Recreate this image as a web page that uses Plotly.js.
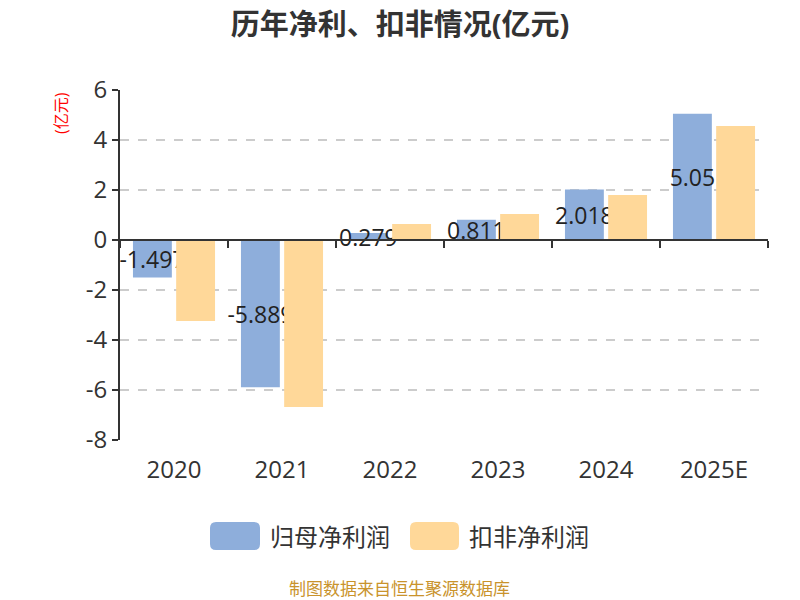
<!DOCTYPE html>
<html>
<head>
<meta charset="utf-8">
<script src="https://cdn.plot.ly/plotly-3.0.1.min.js"></script>
<style>html,body{margin:0;padding:0;background:#fff}</style>
</head>
<body>
<div id="chart" style="width:800px;height:600px"></div>
<script>
// values in 亿元
const years = ["2020", "2021", "2022", "2023", "2024", "2025E"];
const netProfit = [-1.497, -5.889, 0.279, 0.811, 2.018, 5.05];
const deductedProfit = [-3.24, -6.68, 0.64, 1.04, 1.80, 4.56];
const seriesNames = ["归母净利润", "扣非净利润"];
const seriesColors = ["#8eaedb", "#ffd899"];
const yTicks = [-8, -6, -4, -2, 0, 2, 4, 6];

const font = "'Open Sans', 'Noto Sans CJK SC', sans-serif";
const W = 800, H = 600, L = 120, R = 32, T = 90, B = 160;
const pw = W - L - R, ph = H - T - B;
// pixel -> paper helpers for the hand-made legend
const px = v => (v - L) / pw;
const py = v => (H - B - v) / ph;

function roundRect(x0, y0, x1, y1, r) {
    const p = (x, y) => px(x) + "," + py(y);
    return "M" + p(x0 + r, y0) + " L" + p(x1 - r, y0) + " Q" + p(x1, y0) + " " + p(x1, y0 + r) +
        " L" + p(x1, y1 - r) + " Q" + p(x1, y1) + " " + p(x1 - r, y1) +
        " L" + p(x0 + r, y1) + " Q" + p(x0, y1) + " " + p(x0, y1 - r) +
        " L" + p(x0, y0 + r) + " Q" + p(x0, y0) + " " + p(x0 + r, y0) + " Z";
}

const yMin = yTicks[0], yMax = yTicks[yTicks.length - 1];

const data = [
    {
        type: "bar",
        name: seriesNames[0],
        x: years,
        y: netProfit,
        marker: {color: seriesColors[0]},
        text: netProfit.map(String),
        textposition: "inside",
        insidetextanchor: "middle",
        textangle: 0,
        constraintext: "none",
        textfont: {family: font, size: 23, color: "#222"},
    },
    {
        type: "bar",
        name: seriesNames[1],
        x: years,
        y: deductedProfit,
        marker: {color: seriesColors[1]},
    },
    // empty trace so the zero-line axis gets drawn
    {
        type: "scatter",
        x: [],
        y: [],
        xaxis: "x2",
        showlegend: false,
        hoverinfo: "skip",
    },
];

const legendBoxes = [[210, 260], [410, 459]];
const shapes = legendBoxes.map((b, i) => ({
    type: "path",
    xref: "paper",
    yref: "paper",
    path: roundRect(b[0], 522, b[1], 550, 6),
    fillcolor: seriesColors[i],
    line: {width: 0},
}));

const annotations = [
    {
        text: "(亿元)",
        xref: "paper", yref: "paper",
        x: px(61), y: py(113),
        xanchor: "center", yanchor: "middle",
        textangle: -90,
        showarrow: false,
        font: {family: font, size: 16, color: "#ff0000"},
    },
    {
        text: "制图数据来自恒生聚源数据库",
        xref: "paper", yref: "paper",
        x: px(399), y: py(588),
        xanchor: "center", yanchor: "middle",
        showarrow: false,
        font: {family: font, size: 17, color: "#c9932c"},
    },
];
seriesNames.forEach((name, i) => {
    annotations.push({
        text: name,
        xref: "paper", yref: "paper",
        x: px(legendBoxes[i][1] + 8), y: py(536),
        xanchor: "left", yanchor: "middle",
        showarrow: false,
        font: {family: font, size: 24, color: "#333"},
    });
});

const layout = {
    width: W,
    height: H,
    margin: {l: L, r: R, t: T, b: B},
    paper_bgcolor: "#fff",
    plot_bgcolor: "#fff",
    font: {family: font, color: "#333"},
    title: {
        text: "历年净利、扣非情况(亿元)",
        xref: "container",
        x: 0.5,
        y: 1 - 25 / H,
        yanchor: "middle",
        font: {family: font, size: 29, weight: "bold", color: "#333"},
    },
    barmode: "group",
    bargap: 0.2,
    bargroupgap: 0.1,
    showlegend: false,
    xaxis: {
        type: "category",
        showline: false,
        ticks: "",
        showgrid: false,
        zeroline: false,
        ticklabelstandoff: 13,
        tickfont: {family: font, size: 24, color: "#333"},
    },
    xaxis2: {
        overlaying: "x",
        anchor: "free",
        position: (0 - yMin) / (yMax - yMin),
        range: [-0.5, years.length - 0.5],
        tickmode: "array",
        tickvals: years.map((_, i) => i - 0.5).concat([years.length - 0.5]),
        showticklabels: false,
        ticks: "outside",
        ticklen: 7,
        tickwidth: 2,
        tickcolor: "#333",
        showline: true,
        linecolor: "#333",
        linewidth: 2,
        showgrid: false,
        zeroline: false,
    },
    yaxis: {
        range: [yMin, yMax],
        tickmode: "array",
        tickvals: yTicks,
        ticktext: yTicks.map(String),
        showline: true,
        linecolor: "#333",
        linewidth: 2,
        ticks: "outside",
        ticklen: 6,
        tickwidth: 2,
        tickcolor: "#333",
        gridcolor: "#cccccc",
        griddash: "dash",
        gridwidth: 1.5,
        zeroline: false,
        tickfont: {family: font, size: 24, color: "#333"},
    },
    shapes,
    annotations,
};

Plotly.newPlot("chart", data, layout, {displayModeBar: false, staticPlot: true});
</script>
</body>
</html>
